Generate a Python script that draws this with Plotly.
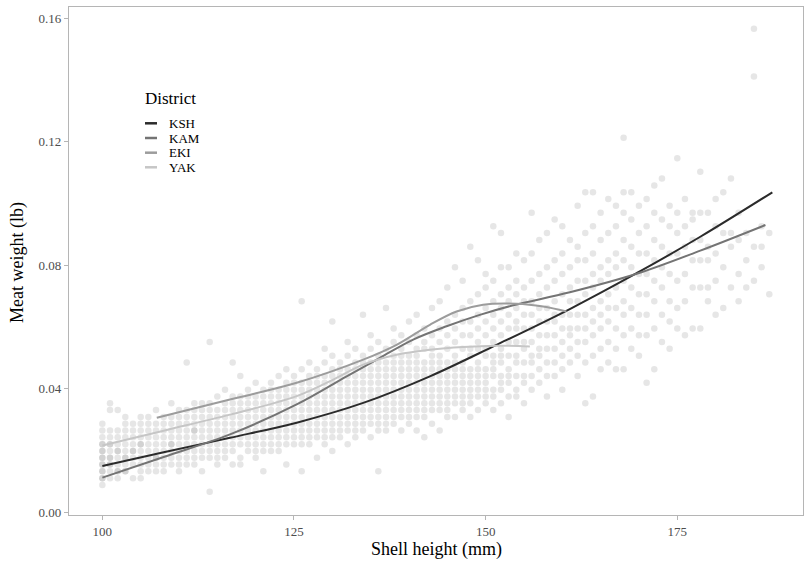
import plotly.graph_objects as go

# ---------------- data ----------------
LB_PER_G = 0.00220462  # meat weights were recorded in whole grams

shell_mm = list(range(100, 188))
meat_g_by_mm = [
    [4, 5, 5, 6, 6, 7, 7, 8, 8, 9, 9, 10, 10, 11, 12, 13],      # 100
    [5, 6, 7, 7, 8, 8, 9, 10, 10, 11, 12, 15, 16],              # 101
    [5, 6, 6, 7, 8, 9, 9, 10, 11, 12, 15],                       # 102
    [6, 6, 7, 8, 8, 9, 10, 11, 12, 13, 14],                      # 103
    [5, 7, 8, 9, 9, 10, 11, 12, 13],                             # 104
    [5, 6, 7, 8, 9, 10, 10, 11, 12, 13, 14],                     # 105
    [6, 7, 8, 9, 10, 11, 12, 13, 14],                            # 106
    [6, 7, 8, 8, 9, 10, 11, 12, 13, 15],                         # 107
    [6, 7, 8, 9, 10, 11, 12, 13, 14],                            # 108
    [7, 8, 9, 10, 10, 11, 12, 13, 14, 16],                       # 109
    [6, 7, 8, 9, 10, 11, 12, 13, 14, 15],                        # 110
    [7, 8, 9, 10, 11, 12, 13, 14, 15, 22],                       # 111
    [7, 8, 9, 10, 11, 12, 12, 13, 14, 15, 16],                   # 112
    [6, 8, 9, 10, 11, 12, 13, 14, 15, 16],                       # 113
    [3, 8, 9, 10, 11, 12, 13, 14, 15, 16, 25],                   # 114
    [7, 8, 9, 10, 11, 12, 13, 14, 15, 17],                       # 115
    [8, 9, 10, 11, 12, 13, 14, 15, 16, 18],                      # 116
    [7, 9, 10, 11, 12, 13, 14, 15, 16, 17, 22],                  # 117
    [7, 8, 10, 11, 12, 13, 14, 15, 16, 17, 20],                  # 118
    [9, 10, 11, 12, 13, 14, 15, 16, 17, 18],                     # 119
    [8, 9, 10, 11, 12, 13, 14, 15, 16, 17, 19],                  # 120
    [6, 9, 10, 11, 12, 13, 14, 15, 16, 17, 18],                  # 121
    [9, 10, 11, 12, 13, 14, 15, 16, 17, 18, 19],                 # 122
    [9, 10, 11, 12, 13, 14, 15, 16, 17, 18, 20],                 # 123
    [7, 10, 11, 12, 13, 14, 15, 16, 17, 18, 19, 21],             # 124
    [10, 11, 12, 13, 14, 15, 16, 17, 18, 19, 20],                # 125
    [6, 10, 11, 12, 13, 14, 15, 16, 17, 18, 19, 21, 31],         # 126
    [10, 11, 12, 13, 14, 15, 16, 17, 18, 19, 20, 22],            # 127
    [8, 11, 12, 13, 14, 15, 16, 17, 18, 19, 20, 21],             # 128
    [10, 11, 12, 13, 14, 15, 16, 17, 18, 19, 20, 22, 24],        # 129
    [9, 11, 12, 13, 14, 15, 16, 17, 18, 19, 20, 21, 23, 28],     # 130
    [11, 12, 13, 14, 15, 16, 17, 18, 19, 20, 21, 22],            # 131
    [10, 12, 13, 14, 15, 16, 17, 18, 19, 20, 21, 23, 25],        # 132
    [11, 12, 13, 14, 15, 16, 17, 18, 19, 20, 21, 22, 24],        # 133
    [12, 13, 14, 15, 16, 17, 18, 19, 20, 21, 22, 23, 29],        # 134
    [11, 13, 14, 15, 16, 17, 18, 19, 20, 21, 22, 24, 26],        # 135
    [6, 12, 13, 14, 15, 16, 17, 18, 19, 20, 21, 22, 23, 25],     # 136
    [12, 13, 14, 15, 16, 17, 18, 19, 20, 21, 22, 24, 30],        # 137
    [13, 14, 15, 16, 17, 18, 19, 20, 21, 22, 23, 25, 27],        # 138
    [12, 14, 15, 16, 17, 18, 19, 20, 21, 22, 23, 24, 26],        # 139
    [13, 14, 15, 16, 17, 18, 19, 20, 21, 22, 23, 25, 28],        # 140
    [12, 14, 15, 16, 17, 18, 19, 20, 21, 22, 23, 24, 26, 29],    # 141
    [11, 14, 15, 16, 17, 18, 19, 20, 21, 22, 24, 25, 27],        # 142
    [13, 15, 16, 17, 18, 19, 20, 21, 22, 23, 24, 26, 30],        # 143
    [12, 15, 16, 17, 18, 19, 20, 21, 22, 23, 25, 27, 31],        # 144
    [14, 15, 16, 17, 18, 19, 20, 21, 22, 24, 26, 28, 33],        # 145
    [14, 16, 17, 18, 19, 20, 21, 22, 23, 25, 27, 29, 36],        # 146
    [15, 16, 17, 18, 19, 20, 21, 22, 24, 26, 28, 30, 34],        # 147
    [14, 16, 17, 18, 19, 20, 21, 23, 24, 26, 28, 31, 39],        # 148
    [15, 17, 18, 19, 20, 21, 22, 24, 25, 27, 29, 32, 37],        # 149
    [16, 17, 18, 19, 20, 21, 23, 24, 26, 28, 30, 33, 35],        # 150
    [15, 17, 18, 20, 21, 22, 23, 25, 27, 29, 31, 34, 42],        # 151
    [16, 18, 19, 20, 22, 23, 24, 26, 28, 30, 32, 36, 41],        # 152
    [14, 17, 19, 20, 21, 23, 25, 27, 29, 31, 33, 36],            # 153
    [17, 18, 20, 22, 23, 25, 27, 28, 30, 32, 34, 38],            # 154
    [16, 19, 20, 22, 24, 25, 27, 29, 31, 33, 37],                # 155
    [18, 20, 22, 23, 25, 27, 29, 31, 34, 38, 44],                # 156
    [19, 21, 23, 24, 26, 28, 30, 32, 35, 40],                    # 157
    [17, 20, 22, 24, 26, 28, 30, 33, 36, 41],                    # 158
    [20, 22, 24, 26, 28, 29, 31, 34, 37, 43],                    # 159
    [18, 21, 23, 25, 27, 29, 32, 35, 38, 42],                    # 160
    [22, 24, 26, 27, 29, 31, 33, 36, 40],                        # 161
    [20, 23, 25, 27, 29, 31, 34, 37, 39, 45],                    # 162
    [16, 22, 25, 27, 29, 32, 34, 37, 41, 47],                    # 163
    [17, 23, 26, 28, 30, 33, 35, 38, 42, 47],                    # 164
    [21, 24, 27, 29, 31, 34, 36, 40, 44],                        # 165
    [22, 25, 28, 30, 32, 35, 37, 41, 46],                        # 166
    [21, 24, 27, 30, 33, 36, 38, 42, 45],                        # 167
    [21, 26, 29, 31, 34, 37, 40, 44, 47, 55],                    # 168
    [24, 27, 30, 33, 36, 39, 43, 47],                            # 169
    [23, 26, 29, 32, 35, 38, 41, 45],                            # 170
    [19, 26, 29, 32, 35, 38, 42, 46],                            # 171
    [21, 27, 31, 34, 37, 40, 44, 48],                            # 172
    [25, 29, 33, 36, 39, 43, 49],                                # 173
    [24, 28, 31, 35, 38, 42, 45],                                # 174
    [27, 30, 34, 38, 41, 44, 52],                                # 175
    [26, 31, 35, 39, 42, 46],                                    # 176
    [27, 33, 37, 40, 43, 44],                                    # 177
    [27, 33, 37, 40, 44, 50],                                    # 178
    [31, 33, 37, 39, 44],                                        # 179
    [29, 34, 38, 42, 46],                                        # 180
    [30, 36, 41, 47],                                            # 181
    [33, 39, 41, 49],                                            # 182
    [31, 35, 40, 44],                                            # 183
    [33, 37, 41],                                                # 184
    [34, 39, 64, 71],                                            # 185
    [36, 39, 42],                                                # 186
    [32, 41],                                                    # 187
]

districts = ["KSH", "KAM", "EKI", "YAK"]

ksh_x = [100.0, 108.0, 116.65, 125.35, 134.03, 142.73, 151.42, 160.98, 169.7, 178.0, 187.4]
ksh_y = [0.0150, 0.0194, 0.0241, 0.0290, 0.0354, 0.0440, 0.0542, 0.0658, 0.0774, 0.0892, 0.1036]

kam_x = [100.0, 108.0, 116.65, 125.35, 131.87, 136.21, 140.55, 144.9, 149.24, 153.59, 160.98, 169.7, 178.0, 186.5]
kam_y = [0.0112, 0.0179, 0.0252, 0.0349, 0.0440, 0.0500, 0.0559, 0.0602, 0.0639, 0.0670, 0.0712, 0.0772, 0.0847, 0.0930]

eki_x = [107.1, 116.65, 125.35, 134.03, 138.38, 142.73, 146.21, 149.67, 154.03, 157.5, 160.55]
eki_y = [0.0306, 0.0365, 0.0419, 0.0494, 0.0542, 0.0607, 0.0650, 0.0672, 0.0675, 0.0666, 0.0650]

yak_x = [100.0, 108.0, 116.65, 125.35, 130.0, 134.03, 138.38, 142.73, 147.07, 151.42, 155.77]
yak_y = [0.0216, 0.0264, 0.0316, 0.0376, 0.0428, 0.0478, 0.0510, 0.0526, 0.0535, 0.0539, 0.0537]

line_colors = ["#2b2b2b", "#747474", "#9c9c9c", "#c6c6c6"]

x_ticks = [100, 125, 150, 175]
y_ticks = [0.00, 0.04, 0.08, 0.12, 0.16]

# ---------------- figure ----------------
pt_x, pt_y = [], []
for h, gs in zip(shell_mm, meat_g_by_mm):
    for g in gs:
        pt_x.append(h)
        pt_y.append(g * LB_PER_G)

fig = go.Figure()
fig.add_trace(go.Scatter(
    x=pt_x, y=pt_y, mode="markers",
    marker=dict(size=6.5, color="rgba(128,128,128,0.2)", line=dict(width=0)),
    showlegend=False, hoverinfo="skip"))

for name, xs, ys, col in zip(districts, [ksh_x, kam_x, eki_x, yak_x],
                             [ksh_y, kam_y, eki_y, yak_y], line_colors):
    fig.add_trace(go.Scatter(x=xs, y=ys, mode="lines", name=name,
                             line=dict(color=col, width=2, shape="spline", smoothing=1.0),
                             showlegend=False))

W, H = 804, 561
ML, MR, MT, MB = 69, 1, 7, 46
PW, PH = W - ML - MR, H - MT - MB

def px(x):
    return (x - ML) / PW

def py(y):
    return 1 - (y - MT) / PH

font = "Liberation Serif, Times New Roman, serif"
axis_common = dict(showline=True, mirror=True, linecolor="#b5b5b5", linewidth=1.2,
                   showgrid=False, zeroline=False, ticks="outside", ticklen=4,
                   tickcolor="#b5b5b5", tickwidth=1, automargin=False,
                   tickfont=dict(family=font, size=13, color="#4d4d4d"))

fig.update_layout(
    width=W, height=H,
    margin=dict(l=ML, r=MR, t=MT, b=MB, autoexpand=False),
    plot_bgcolor="white", paper_bgcolor="white",
    font=dict(family=font),
    xaxis=dict(range=[95.65, 191.4], tickvals=x_ticks, **axis_common),
    yaxis=dict(range=[-0.0009, 0.1636], tickvals=y_ticks, tickformat=".2f", **axis_common),
    showlegend=False,
)

annotations = [
    dict(text="Shell height (mm)", x=px(436), y=py(549), xref="paper", yref="paper",
         showarrow=False, font=dict(family=font, size=18, color="black"),
         xanchor="center", yanchor="middle"),
    dict(text="Meat weight (lb)", x=px(17), y=py(262), xref="paper", yref="paper",
         showarrow=False, textangle=-90, font=dict(family=font, size=18, color="black"),
         xanchor="center", yanchor="middle"),
    dict(text="District", x=px(143), y=py(98), xref="paper", yref="paper",
         showarrow=False, font=dict(family=font, size=17, color="black"),
         xanchor="left", yanchor="middle"),
]
shapes = []
rows = [123.3, 138.0, 152.7, 167.3]
for name, col, ry in zip(districts, line_colors, rows):
    shapes.append(dict(type="line", xref="paper", yref="paper",
                       x0=px(145), x1=px(157), y0=py(ry), y1=py(ry),
                       line=dict(color=col, width=2.5)))
    annotations.append(dict(text=name, x=px(167), y=py(ry), xref="paper", yref="paper",
                            showarrow=False, font=dict(family=font, size=13, color="black"),
                            xanchor="left", yanchor="middle"))
fig.update_layout(annotations=annotations, shapes=shapes)

fig.write_html(
    "out.html",
    config={"displayModeBar": False},
    post_script="document.body.style.margin='0px';document.body.style.overflow='hidden';",
)
